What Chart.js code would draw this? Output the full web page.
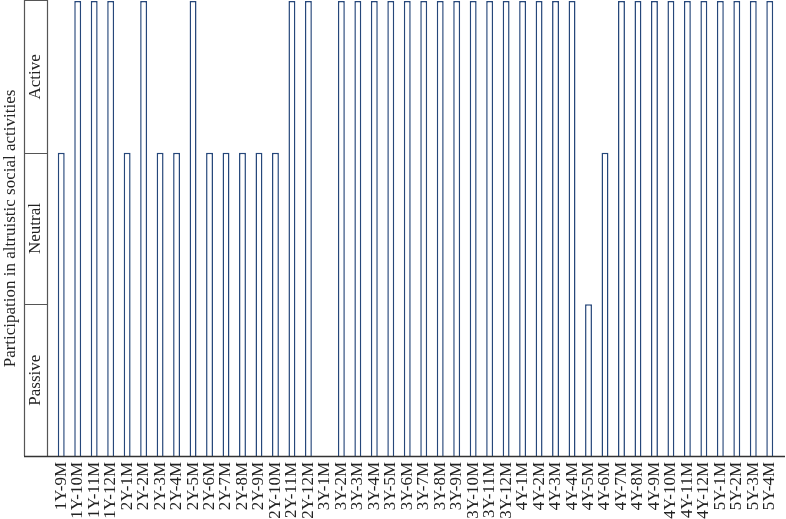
<!DOCTYPE html>
<html>
<head>
<meta charset="utf-8">
<script src="https://cdn.jsdelivr.net/npm/chart.js@4"></script>
<style>
html,body{margin:0;padding:0;background:#fff;}
#wrap{width:786px;height:519px;position:relative;}
</style>
</head>
<body>
<div id="wrap"><canvas id="c" width="786" height="519"></canvas></div>
<script>
const categories = ['1Y-9M','1Y-10M','1Y-11M','1Y-12M',
  '2Y-1M','2Y-2M','2Y-3M','2Y-4M','2Y-5M','2Y-6M','2Y-7M','2Y-8M','2Y-9M','2Y-10M','2Y-11M','2Y-12M',
  '3Y-1M','3Y-2M','3Y-3M','3Y-4M','3Y-5M','3Y-6M','3Y-7M','3Y-8M','3Y-9M','3Y-10M','3Y-11M','3Y-12M',
  '4Y-1M','4Y-2M','4Y-3M','4Y-4M','4Y-5M','4Y-6M','4Y-7M','4Y-8M','4Y-9M','4Y-10M','4Y-11M','4Y-12M',
  '5Y-1M','5Y-2M','5Y-3M','5Y-4M'];
const participation = [2,3,3,3,
  2,3,2,2,3,2,2,2,2,2,3,3,
  0,3,3,3,3,3,3,3,3,3,3,3,
  3,3,3,3,1,2,3,3,3,3,3,3,
  3,3,3,3];
const levelLabels = ['Passive','Neutral','Active'];
const yTitle = 'Participation in altruistic social activities';

const FONT = '"Liberation Serif", "DejaVu Serif", serif';

const boxPlugin = {
  id: 'levelBox',
  afterDraw(chart) {
    const ctx = chart.ctx;
    const y = chart.scales.y;
    const area = chart.chartArea;
    const bx0 = 24.5, bx1 = 47.5;
    ctx.save();
    ctx.strokeStyle = '#555';
    ctx.lineWidth = 1.2;
    ctx.beginPath();
    ctx.moveTo(bx0, y.getPixelForValue(0));
    ctx.lineTo(bx0, 0.5);
    ctx.lineTo(bx1, 0.5);
    ctx.lineTo(bx1, y.getPixelForValue(0));
    for (let v = 1; v < levelLabels.length; v++) {
      const py = Math.round(y.getPixelForValue(v)) + 0.5;
      ctx.moveTo(bx0, py);
      ctx.lineTo(bx1, py);
    }
    ctx.stroke();
    // bottom axis line
    ctx.strokeStyle = '#333';
    ctx.lineWidth = 1.5;
    ctx.beginPath();
    const by = y.getPixelForValue(0) + 0.5;
    ctx.moveTo(bx0 - 0.5, by);
    ctx.lineTo(785, by);
    ctx.stroke();
    // level labels
    ctx.fillStyle = '#222';
    ctx.font = '17px ' + FONT;
    ctx.textAlign = 'center';
    ctx.textBaseline = 'middle';
    levelLabels.forEach((lab, i) => {
      const cy = y.getPixelForValue(i + 0.5);
      ctx.save();
      ctx.translate((bx0 + bx1) / 2, cy);
      ctx.rotate(-Math.PI / 2);
      ctx.fillText(lab, 0, 0);
      ctx.restore();
    });
    // y title
    ctx.save();
    ctx.font = '17px ' + FONT;
    ctx.translate(11, (area.top + area.bottom) / 2);
    ctx.rotate(-Math.PI / 2);
    ctx.fillText(yTitle, 0, 0);
    ctx.restore();
    ctx.restore();
  }
};

new Chart(document.getElementById('c'), {
  type: 'bar',
  data: {
    labels: categories,
    datasets: [{
      data: participation,
      backgroundColor: '#ffffff',
      borderColor: '#26477a',
      borderWidth: 1.5,
      barPercentage: 0.42,
      categoryPercentage: 1.0
    }]
  },
  options: {
    responsive: false,
    animation: false,
    events: [],
    layout: { autoPadding: false, padding: { left: 53, right: 8, top: 1, bottom: 0 } },
    plugins: { legend: { display: false }, tooltip: { enabled: false } },
    scales: {
      x: {
        offset: true,
        grid: { display: false, drawTicks: false },
        border: { display: false },
        ticks: {
          autoSkip: false,
          minRotation: 90,
          maxRotation: 90,
          padding: 6,
          color: '#222',
          font: { family: FONT, size: 17 }
        },
        afterFit(scale) {
          scale.height = 63;
          scale.paddingLeft = 0;
          scale.paddingRight = 0;
        }
      },
      y: {
        display: false,
        min: 0,
        max: 3
      }
    }
  },
  plugins: [boxPlugin]
});
</script>
</body>
</html>
